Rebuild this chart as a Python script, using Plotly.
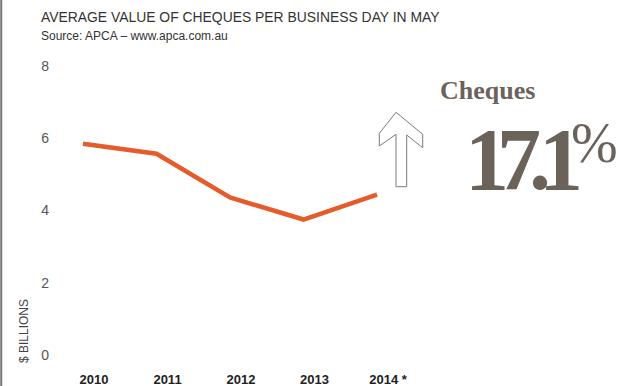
import plotly.graph_objects as go

W, H = 620, 386

years = ["2010", "2011", "2012", "2013", "2014 *"]
values = [5.85, 5.57, 4.36, 3.75, 4.44]
y_ticks = [0, 2, 4, 6, 8]

title_text = "AVERAGE VALUE OF CHEQUES PER BUSINESS DAY IN MAY"
source_text = "Source: APCA \u2013 www.apca.com.au"
y_title = "$ BILLIONS"
callout_label = "Cheques"
callout_value = "17.1"

ORANGE = "#E55B2B"
TAUPE = "#6B625A"


def px(x):
    return x / W


def py(y):
    return 1 - y / H


fig = go.Figure()
fig.add_trace(go.Scatter(
    x=list(range(len(years))), y=values, mode="lines",
    line=dict(color=ORANGE, width=4.5), hoverinfo="skip",
))

spacing = 73.5
x0_px = 83
dom_left = 50
fig.update_layout(
    width=W, height=H,
    margin=dict(l=0, r=0, t=0, b=0, autoexpand=False),
    paper_bgcolor="white", plot_bgcolor="white",
    showlegend=False,
    xaxis=dict(
        domain=[px(dom_left), 1],
        range=[-(x0_px - dom_left) / spacing, (W - x0_px) / spacing],
        tickvals=list(range(len(years))), ticktext=years,
        showgrid=False, zeroline=False, showline=False, ticks="",
        tickfont=dict(family="Liberation Sans", size=13, color="#222222", weight="bold"),
        ticklabelshift=11, ticklabelstandoff=15, automargin=False,
        fixedrange=True,
    ),
    yaxis=dict(
        domain=[py(355), py(66)],
        range=[0, 8],
        tickvals=y_ticks,
        showgrid=False, zeroline=False, showline=False, ticks="",
        tickfont=dict(family="Liberation Sans", size=14, color="#555555"),
        automargin=False,
        fixedrange=True,
    ),
)

ann = []
ann.append(dict(text=title_text, x=px(39), y=py(17), xref="paper", yref="paper",
                xanchor="left", yanchor="middle", showarrow=False,
                font=dict(family="Liberation Sans", size=13.9, color="#333333")))
ann.append(dict(text=source_text, x=px(39), y=py(36), xref="paper", yref="paper",
                xanchor="left", yanchor="middle", showarrow=False,
                font=dict(family="Liberation Sans", size=12, color="#333333")))
ann.append(dict(text=y_title, x=px(24), y=py(331), xref="paper", yref="paper",
                xanchor="center", yanchor="middle", showarrow=False, textangle=-90,
                font=dict(family="Liberation Sans", size=12, color="#444444")))
ann.append(dict(text=callout_label, x=px(487), y=py(91), xref="paper", yref="paper",
                xanchor="center", yanchor="middle", showarrow=False,
                font=dict(family="Liberation Serif", size=26, color=TAUPE, weight="bold")))
ann.append(dict(text='<span style="letter-spacing:-12px">' + callout_value + '</span>',
                x=px(463), y=py(210), xref="paper", yref="paper",
                xanchor="left", yanchor="bottom", showarrow=False,
                font=dict(family="Liberation Serif", size=88, color=TAUPE, weight="bold")))
ann.append(dict(text="%", x=px(620), y=py(110), xref="paper", yref="paper",
                xanchor="right", yanchor="top", showarrow=False,
                font=dict(family="Liberation Serif", size=56, color=TAUPE)))
fig.update_layout(annotations=ann)

# decorative outline arrow
pts = [(396, 112.3), (379.3, 133.3), (379.3, 146), (396, 134.3), (396, 186.7),
       (406.7, 186.7), (406.7, 135), (422.7, 147.7), (422.7, 134.3)]
path = "M " + " L ".join(f"{px(a):.5f},{py(b):.5f}" for a, b in pts) + " Z"
fig.add_shape(type="path", path=path, xref="paper", yref="paper",
              line=dict(color="#7a7a7a", width=1), fillcolor="white")
# left border line
fig.add_shape(type="line", x0=px(1.2), x1=px(1.2), y0=0, y1=1, xref="paper", yref="paper",
              line=dict(color="#777777", width=2))

fig.write_html("out.html")
